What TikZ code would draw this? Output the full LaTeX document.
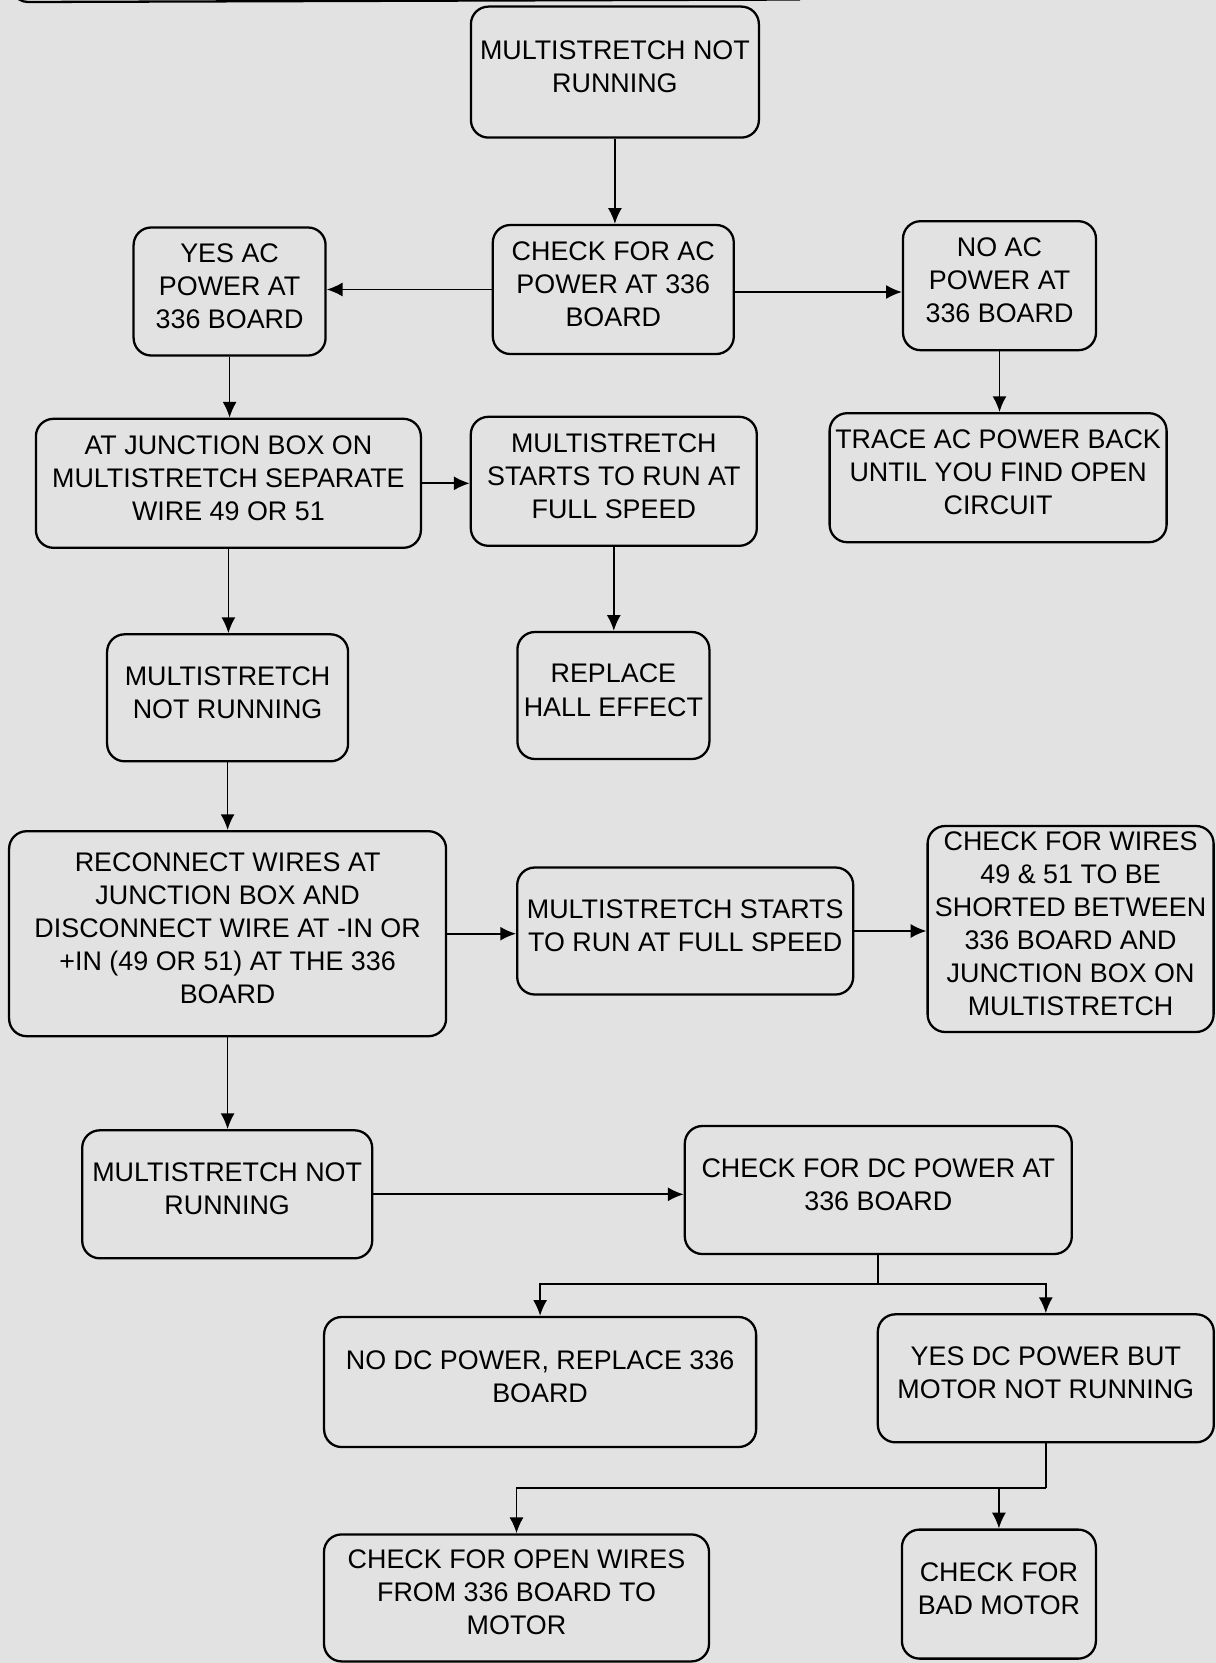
\documentclass[tikz,border=0pt]{standalone}
\usepackage{fontspec}
\setmainfont{Liberation Sans}
\usetikzlibrary{arrows.meta}
\definecolor{paper}{RGB}{226,226,226}
\tikzset{
  box/.style={draw, line width=1.3pt, rounded corners=10pt, inner sep=0pt},
  txt/.style={align=center, inner sep=0pt, yshift=3pt, font={\fontsize{15.3pt}{18.8pt}\selectfont}},
  arr/.style={line width=1pt, -{Latex[length=9pt,width=8pt]}},
  ln/.style={line width=1pt},
}
\newcommand\flowbox[6]{%
  \node[box, minimum width=#4*0.02cm, minimum height=#5*0.02cm,
        label={[txt]center:{#6}}] (#1) at (#2,#3) {};}
\begin{document}
\begin{tikzpicture}[x=0.02cm,y=-0.02cm]
\fill[paper] (0,0) rectangle (1216,1663);
\useasboundingbox (0,0) rectangle (1216,1663);
% partial box at the top edge
\draw[line width=1.3pt] (15,-8) to[out=-90,in=180] (28,2) -- (800,-0.5);

\flowbox{b1}{614.9}{72.1}{288}{131}{MULTISTRETCH NOT\\RUNNING}
\flowbox{b2}{613.3}{289.5}{241}{129}{CHECK FOR AC\\POWER AT 336\\BOARD}
\flowbox{b3}{229.6}{291.5}{192}{128}{YES AC\\POWER AT\\336 BOARD}
\flowbox{b4}{999.5}{285.7}{193}{129}{NO AC\\POWER AT\\336 BOARD}
\flowbox{b5}{228.4}{483.3}{385}{129}{AT JUNCTION BOX ON\\MULTISTRETCH SEPARATE\\WIRE 49 OR 51}
\flowbox{b6}{613.8}{481.3}{286}{129}{MULTISTRETCH\\STARTS TO RUN AT\\FULL SPEED}
\flowbox{b7}{998.1}{477.7}{337}{129}{TRACE AC POWER BACK\\UNTIL YOU FIND OPEN\\CIRCUIT}
\flowbox{b8}{227.6}{697.8}{241}{127}{MULTISTRETCH\\NOT RUNNING}
\flowbox{b9}{613.4}{695.5}{192}{127}{REPLACE\\HALL EFFECT}
\flowbox{b10}{227.6}{933.7}{437}{205}{RECONNECT WIRES AT\\JUNCTION BOX AND\\DISCONNECT WIRE AT -IN OR\\+IN (49 OR 51) AT THE 336\\BOARD}
\flowbox{b11}{685.2}{931}{336}{127}{MULTISTRETCH STARTS\\TO RUN AT FULL SPEED}
\flowbox{b12}{1070.6}{929}{286}{206}{CHECK FOR WIRES\\49 \& 51 TO BE\\SHORTED BETWEEN\\336 BOARD AND\\JUNCTION BOX ON\\MULTISTRETCH}
\flowbox{b13}{227.2}{1194.3}{290}{128}{MULTISTRETCH NOT\\RUNNING}
\flowbox{b14}{878.3}{1190}{387}{128}{CHECK FOR DC POWER AT\\336 BOARD}
\flowbox{b15}{540.1}{1382}{432}{130}{NO DC POWER, REPLACE 336\\BOARD}
\flowbox{b16}{1045.8}{1378.3}{336}{128}{YES DC POWER BUT\\MOTOR NOT RUNNING}
\flowbox{b17}{516.5}{1597.9}{385}{127}{CHECK FOR OPEN WIRES\\FROM 336 BOARD TO\\MOTOR}
\flowbox{b18}{998.9}{1594.1}{194}{129}{CHECK FOR\\BAD MOTOR}

\draw[arr] (b1.south) -- (b1.south |- b2.north);
\draw[arr] (b2.west) -- (b2.west -| b3.east);
\draw[arr] ([yshift=-2.5*0.02cm]b2.east) -- ([yshift=-2.5*0.02cm]b2.east -| b4.west);
\draw[arr] (b3.south) -- (b3.south |- b5.north);
\draw[arr] (b4.south) -- (b4.south |- b7.north);
\draw[arr] (b5.east) -- (b5.east -| b6.west);
\draw[arr] (b6.south) -- (b6.south |- b9.north);
\draw[arr] (b5.south) -- (b5.south |- b8.north);
\draw[arr] (b8.south) -- (b8.south |- b10.north);
\draw[arr] (b10.east) -- (b10.east -| b11.west);
\draw[arr] (b11.east) -- (b11.east -| b12.west);
\draw[arr] (b10.south) -- (b10.south |- b13.north);
\draw[arr] (b13.east) -- (b13.east -| b14.west);

\coordinate (f1) at (878.3,1284.2);
\draw[ln] (b14.south) -- (f1);
\draw[arr] (f1) -| (b15.north);
\draw[arr] (f1) -| (b16.north);

\coordinate (f2) at (1045.8,1487.8);
\draw[ln] (b16.south) -- (f2);
\draw[arr] (f2) -| (b17.north);
\draw[arr] (f2 -| b18.north) -- (b18.north);
\end{tikzpicture}
\end{document}
